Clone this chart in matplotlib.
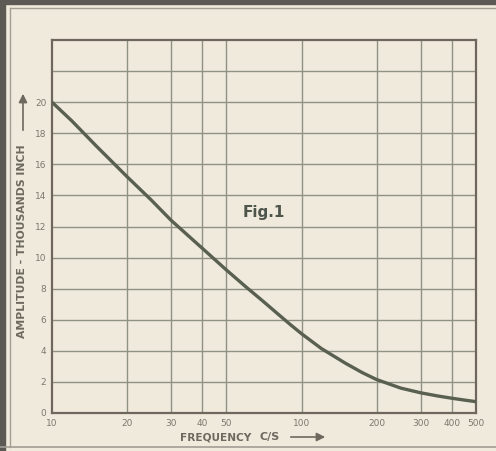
import matplotlib
matplotlib.use("Agg")
import matplotlib.pyplot as plt
from matplotlib.patches import Rectangle, FancyArrowPatch
from matplotlib.lines import Line2D

# Data
freq = [10, 12, 15, 20, 25, 30, 40, 50, 60, 70, 80, 90, 100, 120, 150, 175, 200,
        250, 300, 350, 400, 450, 500]
amplitude = [20.0, 18.8, 17.2, 15.2, 13.7, 12.4, 10.6, 9.2, 8.1, 7.2, 6.4, 5.7, 5.1,
             4.15, 3.2, 2.6, 2.15, 1.6, 1.3, 1.1, 0.95, 0.83, 0.73]

x_ticks = [10, 20, 30, 40, 50, 100, 200, 300, 400, 500]
x_labels = ["10", "20", "30", "40", "50", "100", "200", "300", "400", "500"]
y_ticks = [0, 2, 4, 6, 8, 10, 12, 14, 16, 18, 20]
y_grid = [2, 4, 6, 8, 10, 12, 14, 16, 18, 20, 22]

BG = "#efeadc"
GRID = "#8f9184"
FRAME = "#6f675d"
CURVE = "#59604f"
TXT = "#7d786d"
LBL = "#6e695f"

W, H = 496, 451
fig = plt.figure(figsize=(W / 100, H / 100), dpi=100)
fig.patch.set_facecolor(BG)

# scan edges / frame decoration
fig.add_artist(Rectangle((0, 0), 5 / W, 1, transform=fig.transFigure, color="#5d5a55", zorder=0))
fig.add_artist(Rectangle((0, 1 - 4 / H), 1, 4 / H, transform=fig.transFigure, color="#5d5a55", zorder=0))
fig.add_artist(Line2D([9.5 / W, 9.5 / W], [4 / H, 1 - 8 / H], transform=fig.transFigure, color="#a39e94", lw=1.0))
fig.add_artist(Line2D([9.5 / W, 1], [1 - 8 / H, 1 - 8 / H], transform=fig.transFigure, color="#a39e94", lw=1.0))
fig.add_artist(Line2D([0, 1], [4 / H, 4 / H], transform=fig.transFigure, color="#a39e94", lw=1.2))

ax = fig.add_axes([52 / W, (H - 413) / H, 424 / W, 373 / H])
ax.set_facecolor(BG)
ax.set_xscale("log")
ax.set_xlim(10, 500)
ax.set_ylim(0, 24)

for xv in x_ticks[1:-1]:
    ax.axvline(xv, color=GRID, lw=1.0, zorder=1)
for yv in y_grid:
    ax.axhline(yv, color=GRID, lw=1.0, zorder=1)

ax.plot(freq, amplitude, color=CURVE, lw=2.4, solid_capstyle="round",
        solid_joinstyle="round", zorder=3)

for s in ax.spines.values():
    s.set_color(FRAME)
    s.set_linewidth(1.6)

ax.set_xticks(x_ticks)
ax.set_xticklabels(x_labels)
ax.xaxis.set_minor_locator(matplotlib.ticker.NullLocator())
ax.set_yticks(y_ticks)
ax.tick_params(length=0, colors=TXT, labelsize=6.5, pad=4)
for lab in ax.get_xticklabels() + ax.get_yticklabels():
    lab.set_fontfamily("DejaVu Sans Condensed")
    lab.set_color(TXT)

ax.text(70.5, 12.9, "Fig.1", fontsize=11, fontweight="bold", color="#4e554b",
        ha="center", va="center", zorder=4)

# axis titles
fig.text(22 / W, 1 - 241 / H, "AMPLITUDE - THOUSANDS INCH", rotation=90, ha="center", va="center",
         fontsize=7.8, fontweight="bold", color=LBL, fontfamily="DejaVu Sans")
fig.add_artist(FancyArrowPatch((23 / W, 1 - 133 / H), (23 / W, 1 - 91 / H),
               transform=fig.transFigure, arrowstyle="-|>,head_length=5,head_width=2.5",
               color=LBL, lw=1.2))
fig.text(216 / W, 1 - 438 / H, "FREQUENCY", ha="center", va="center",
         fontsize=7.6, fontweight="bold", color=LBL)
fig.text(270 / W, 1 - 437 / H, "C/S", ha="center", va="center",
         fontsize=8, fontweight="bold", color=LBL)
fig.add_artist(FancyArrowPatch((288 / W, 1 - 437 / H), (328 / W, 1 - 437 / H),
               transform=fig.transFigure, arrowstyle="-|>,head_length=5,head_width=2.5",
               color=LBL, lw=1.2))

fig.savefig("out.png", dpi=100, facecolor=BG)
